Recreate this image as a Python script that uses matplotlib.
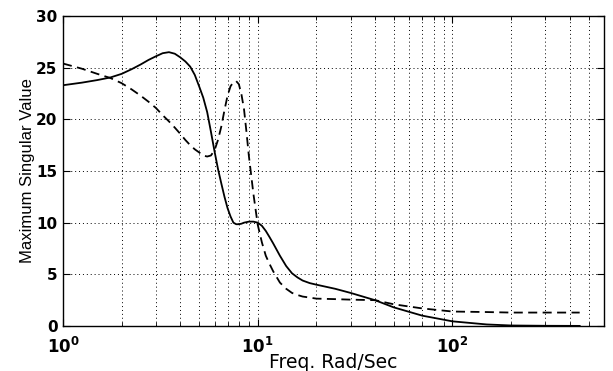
import matplotlib
matplotlib.use("Agg")
import matplotlib.pyplot as plt
from matplotlib.ticker import LogLocator, NullFormatter, FixedLocator, FixedFormatter

# ---- data ----
freq = [1, 1.25, 1.5, 1.75, 2, 2.25, 2.5, 2.75, 3, 3.25,
        3.5, 3.75, 4, 4.25, 4.5, 4.75, 5, 5.25, 5.5, 5.75,
        6, 6.25, 6.5, 6.75, 7, 7.25, 7.5, 7.75, 8, 8.25,
        8.5, 8.75, 9, 9.5, 10, 10.5, 11, 11.5, 12, 13,
        14, 15, 16, 17, 18.5, 20, 25, 30, 40, 50,
        70, 100, 150, 200, 300, 450]
sv_solid = [23.3, 23.55, 23.8, 24.05, 24.4, 24.85, 25.3, 25.75, 26.1, 26.4,
            26.5, 26.35, 26.0, 25.6, 25.1, 24.3, 23.2, 22.1, 20.7, 18.8,
            16.9, 15.2, 13.8, 12.5, 11.4, 10.6, 10.0, 9.85, 9.85, 9.9,
            10.0, 10.05, 10.1, 10.1, 10.0, 9.7, 9.2, 8.6, 8.0, 6.8,
            5.8, 5.1, 4.7, 4.4, 4.15, 4.0, 3.6, 3.2, 2.5, 1.8,
            1.0, 0.45, 0.15, 0.05, 0.02, 0.01]
sv_dashed = [25.4, 24.9, 24.4, 24.0, 23.5, 22.9, 22.3, 21.7, 21.1, 20.4,
             19.8, 19.2, 18.6, 18.0, 17.5, 17.1, 16.8, 16.5, 16.4, 16.5,
             17.0, 18.0, 19.3, 20.9, 22.3, 23.2, 23.6, 23.7, 23.4, 22.4,
             21.0, 18.8, 16.5, 12.8, 9.8, 8.1, 6.8, 6.0, 5.3, 4.2,
             3.6, 3.2, 3.0, 2.85, 2.75, 2.65, 2.6, 2.55, 2.5, 2.1,
             1.7, 1.4, 1.35, 1.3, 1.3, 1.3]

ytick_vals = [0, 5, 10, 15, 20, 25, 30]
ytick_labels = ['0', '5', '10', '15', '20', '25', '30']
xtick_vals = [1, 10, 100]
xtick_labels = [r'$\mathbf{10^{0}}$', r'$\mathbf{10^{1}}$', r'$\mathbf{10^{2}}$']
xlabel = 'Freq. Rad/Sec'
ylabel = 'Maximum Singular Value'

plt.rcParams['mathtext.fontset'] = 'dejavusans'

fig = plt.figure(figsize=(6.13, 3.71), dpi=100)
ax = fig.add_axes([63/613, 1-326/371, (604-63)/613, (326-16)/371])

ax.plot(freq, sv_solid, color='black', lw=1.3, ls='-')
ax.plot(freq, sv_dashed, color='black', lw=1.3, ls=(0, (5, 3)))

ax.set_xscale('log')
ax.set_xlim(1, 600)
ax.set_ylim(0, 30)

ax.xaxis.set_major_locator(FixedLocator(xtick_vals))
ax.xaxis.set_major_formatter(FixedFormatter(xtick_labels))
ax.xaxis.set_minor_locator(LogLocator(base=10, subs=range(2, 10), numticks=20))
ax.xaxis.set_minor_formatter(NullFormatter())
ax.set_yticks(ytick_vals)
ax.set_yticklabels(ytick_labels)

for lab in ax.get_yticklabels():
    lab.set_fontfamily('DejaVu Sans')
    lab.set_fontweight('bold')
    lab.set_fontsize(11)
for lab in ax.get_xticklabels():
    lab.set_fontsize(12)

ax.tick_params(which='both', direction='in', top=True, right=True, colors='black')
ax.tick_params(which='major', length=5, width=0.8, pad=4)
ax.tick_params(which='minor', length=3, width=0.6)
ax.tick_params(axis='x', which='major', pad=8)

ax.grid(True, which='major', axis='both', color='black', lw=0.7, ls=(0, (1, 3)))
ax.grid(True, which='minor', axis='x', color='black', lw=0.7, ls=(0, (1, 3)))

for s in ax.spines.values():
    s.set_linewidth(1.0)
    s.set_color('black')

ax.set_xlabel(xlabel, fontsize=13.5, family='DejaVu Sans', labelpad=-3)
ax.set_ylabel(ylabel, fontsize=12, family='Liberation Sans', labelpad=1)

fig.savefig('out.png', dpi=100, facecolor='white')
